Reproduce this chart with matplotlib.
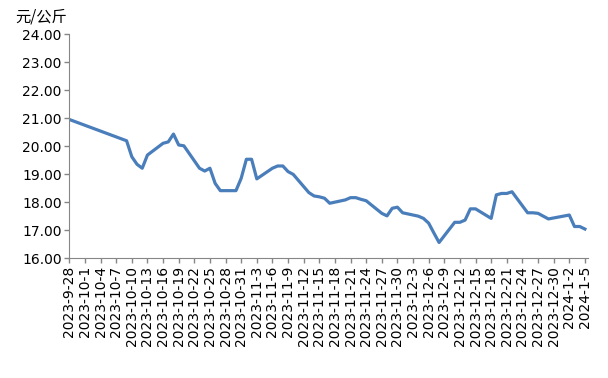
import matplotlib
matplotlib.use("Agg")
import matplotlib.pyplot as plt
import pandas as pd

# price series (元/公斤), weekday observations
dates = [
    "2023-09-28",
    "2023-10-09", "2023-10-10", "2023-10-11", "2023-10-12", "2023-10-13",
    "2023-10-16", "2023-10-17", "2023-10-18", "2023-10-19", "2023-10-20",
    "2023-10-23", "2023-10-24", "2023-10-25", "2023-10-26", "2023-10-27",
    "2023-10-30", "2023-10-31", "2023-11-01", "2023-11-02", "2023-11-03",
    "2023-11-06", "2023-11-07", "2023-11-08", "2023-11-09", "2023-11-10",
    "2023-11-13", "2023-11-14", "2023-11-15", "2023-11-16", "2023-11-17",
    "2023-11-20", "2023-11-21", "2023-11-22", "2023-11-23", "2023-11-24",
    "2023-11-27", "2023-11-28", "2023-11-29", "2023-11-30", "2023-12-01",
    "2023-12-04", "2023-12-05", "2023-12-06", "2023-12-07", "2023-12-08",
    "2023-12-11", "2023-12-12", "2023-12-13", "2023-12-14", "2023-12-15",
    "2023-12-18", "2023-12-19", "2023-12-20", "2023-12-21", "2023-12-22",
    "2023-12-25", "2023-12-26", "2023-12-27", "2023-12-28", "2023-12-29",
    "2024-01-02", "2024-01-03", "2024-01-04", "2024-01-05",
]
prices = [
    20.95,
    20.19, 19.62, 19.35, 19.21, 19.68,
    20.10, 20.15, 20.43, 20.04, 20.01,
    19.21, 19.11, 19.21, 18.67, 18.41,
    18.41, 18.85, 19.53, 19.53, 18.83,
    19.21, 19.29, 19.29, 19.09, 18.99,
    18.34, 18.22, 18.19, 18.14, 17.96,
    18.08, 18.16, 18.16, 18.10, 18.05,
    17.60, 17.51, 17.78, 17.82, 17.62,
    17.50, 17.42, 17.25, 16.90, 16.56,
    17.28, 17.28, 17.36, 17.76, 17.76,
    17.42, 18.26, 18.31, 18.31, 18.37,
    17.62, 17.62, 17.60, 17.50, 17.40,
    17.54, 17.13, 17.13, 17.04,
]
y_ticks = [16, 17, 18, 19, 20, 21, 22, 23, 24]

x = pd.to_datetime(dates)
tick_days = pd.date_range("2023-09-28", "2024-01-05", freq="3D")
tick_labels = [f"{d.year}-{d.month}-{d.day}" for d in tick_days]

plt.rcParams["font.family"] = ["DejaVu Sans", "Noto Sans CJK SC"]
fig = plt.figure(figsize=(6.08, 3.78), dpi=100)
ax = fig.add_axes([0.114, 0.317, 0.853, 0.593])

ax.plot(x, prices, color="#4A7EBB", linewidth=2.3, solid_joinstyle="round")

ax.set_ylim(16, 24)
ax.set_yticks(y_ticks)
ax.set_yticklabels([f"{v:.2f}" for v in y_ticks], fontsize=10)
ax.set_xlim(pd.Timestamp("2023-09-28"), pd.Timestamp("2024-01-05") + pd.Timedelta(hours=14))
ax.set_xticks(tick_days)
ax.set_xticklabels(tick_labels, rotation=90, fontsize=10, va="top")

for side in ["top", "right"]:
    ax.spines[side].set_visible(False)
for side in ["left", "bottom"]:
    ax.spines[side].set_color("#868686")
ax.tick_params(axis="both", colors="#868686", labelcolor="black", length=3.5, width=1, pad=2)

fig.text(0.025, 0.955, "元/公斤", fontsize=11, family=["Noto Sans CJK SC"], va="center", ha="left")

fig.savefig("out.png", dpi=100)
